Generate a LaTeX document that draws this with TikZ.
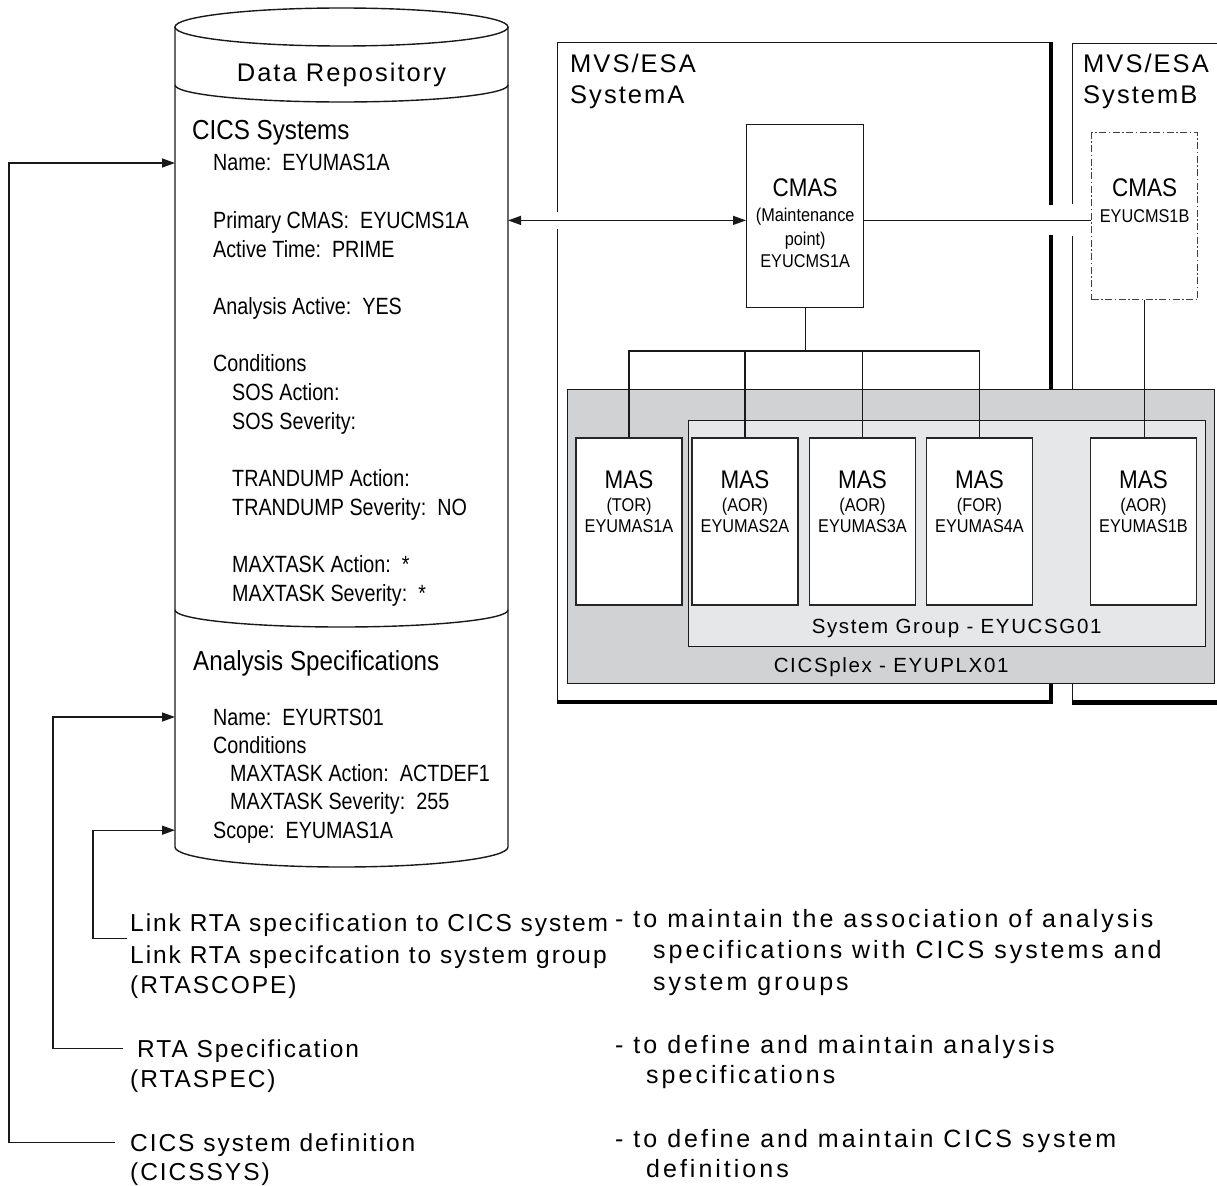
\documentclass[tikz,border=0pt]{standalone}
\usepackage{fontspec}
\setmainfont{Liberation Sans}
\newfontfamily\narrowfont[FakeStretch=0.88]{Liberation Sans}
\newfontfamily\condfont[FakeStretch=0.84]{Liberation Sans}
\newfontfamily\spacedfont[LetterSpace=8]{Liberation Sans}
\newfontfamily\widefont[LetterSpace=12]{Liberation Sans}
\newcommand{\fsz}[1]{\fontsize{#1}{#1}\selectfont}
\usetikzlibrary{arrows.meta,calc,positioning}
\definecolor{plexgray}{HTML}{D1D2D4}
\definecolor{groupgray}{HTML}{E6E7E8}

\begin{document}
\begin{tikzpicture}[x=1pt, y=-1pt, >={Triangle[length=13pt,width=9pt]},
    conn/.style={draw=black!90, line width=1.3pt},
    frame/.style={draw=black!90, line width=1.3pt, inner sep=0pt, anchor=north west},
    item/.style={anchor=base west, inner sep=0pt, font=\condfont\fsz{23.5}, text height=16pt, text depth=0pt},
    head/.style={anchor=base west, inner sep=0pt, font=\narrowfont\fsz{27.5}},
    boxtxt/.style={anchor=base, inner sep=0pt, font=\narrowfont\fsz{18.5}},
    boxhead/.style={anchor=base, inner sep=0pt, font=\narrowfont\fsz{25.5}},
    caption/.style={anchor=base, inner sep=0pt, font=\spacedfont\fsz{20.5}},
    syslbl/.style={anchor=base west, inner sep=0pt, font=\spacedfont\fsz{25.5}},
    desc/.style={anchor=base west, inner sep=0pt, font=\spacedfont\fsz{24.5}, text height=17pt, text depth=0pt},
    note/.style={anchor=base west, inner sep=0pt, font=\widefont\fsz{25}},
    masbox/.style={draw=black!85, fill=white, line width=1.3pt, inner sep=0pt, minimum width=106pt, minimum height=167pt}]

  \useasboundingbox (0,0) rectangle (1217,1185);
  \clip (0,0) rectangle (1217,1185);

  % MVS/ESA systems
  \node[frame, minimum width=492.5pt, minimum height=658.5pt] (sysa) at (557,42) {};
  \draw[line width=4.5pt] (sysa.north east) -- (sysa.south east) -- (sysa.south west);
  \node[frame, minimum width=170pt, minimum height=658pt] (sysb) at (1072,43) {};
  \draw[line width=4.5pt] (sysb.south west) -- (sysb.south east);
  \node[syslbl] (sysa1) at (570,73) {MVS/ESA};
  \node[syslbl] (sysa2) at (570,104) {SystemA};
  \node[syslbl] (sysb1) at (1083,73) {MVS/ESA};
  \node[syslbl] (sysb2) at (1083,104) {SystemB};
  % breaks in the frames where the CMAS links pass
  \fill[white] (553,212) rectangle (561,229);
  \fill[white] (1045,205) rectangle (1054,235);
  \fill[white] (1068,204) rectangle (1076,236);

  % CICSplex and system group
  \node[frame, fill=plexgray, minimum width=647pt, minimum height=294pt] (plex) at (567,389) {};
  \node[frame, fill=groupgray, minimum width=517pt, minimum height=226pt] (grp) at (688,420) {};
  \node[caption] (plexlbl) at ([yshift=11.5pt]plex.south) {CICSplex - EYUPLX01};
  \node[caption] (grplbl) at ([xshift=9.5pt,yshift=13.5pt]grp.south) {System Group - EYUCSG01};

  % CMAS
  \node[frame, fill=white, minimum width=117pt, minimum height=183pt] (cmasa) at (746,124) {};
  \node[boxhead] (cmasa0) at ([yshift=-72.5pt]cmasa.north) {CMAS};
  \node[boxtxt] (cmasa1) at ([yshift=-98pt]cmasa.north) {(Maintenance};
  \node[boxtxt] (cmasa2) at ([yshift=-121pt]cmasa.north) {point)};
  \node[boxtxt] (cmasa3) at ([yshift=-143.5pt]cmasa.north) {EYUCMS1A};
  \node[frame, draw=black!75, line width=1.2pt, dash pattern=on 7pt off 2.5pt on 1.5pt off 2.5pt,
    minimum width=106pt, minimum height=167pt] (cmasb) at (1091,132) {};
  \node[boxhead] (cmasb0) at ([yshift=-64.5pt]cmasb.north) {CMAS};
  \node[boxtxt] (cmasb1) at ([yshift=-90.5pt]cmasb.north) {EYUCMS1B};

  % MAS regions
  \foreach \n/\cx/\role/\id in {m1/629/TOR/EYUMAS1A, m2/745/AOR/EYUMAS2A,
      m3/862.5/AOR/EYUMAS3A, m4/979.5/FOR/EYUMAS4A, m5/1143.5/AOR/EYUMAS1B} {
    \node[masbox] (\n) at (\cx,521.5) {};
    \node[boxhead] (\n-t) at ([yshift=-51pt]\n.north) {MAS};
    \node[boxtxt] (\n-r) at ([yshift=-74pt]\n.north) {(\role)};
    \node[boxtxt] (\n-i) at ([yshift=-95.5pt]\n.north) {\id};
  }

  % CMAS to MAS links
  \coordinate (bus) at (0,351);
  \draw[conn] (cmasa.south) -- (cmasa.south |- bus);
  \draw[conn] (m1.north) |- (m4.north |- bus) -- (m4.north);
  \foreach \n in {m2,m3} \draw[conn] (\n.north) -- (\n.north |- bus);
  \draw[conn] (cmasb.south) -- (cmasb.south |- m5.north);

  % data repository
  \coordinate (drl) at (175,0);
  \coordinate (drr) at (508,0);
  \begin{scope}[line width=1.4pt, draw=black!90]
    \draw (175,27) -- (175,847) arc[start angle=180, end angle=360, x radius=166.5pt, y radius=20pt] -- (508,27);
    \draw (341.5,27) ellipse[x radius=166.5pt, y radius=19pt];
    \draw (175,85) arc[start angle=180, end angle=360, x radius=166.5pt, y radius=17pt];
    \draw (175,610) arc[start angle=180, end angle=360, x radius=166.5pt, y radius=17pt];
  \end{scope}
  \node[anchor=base, inner sep=0pt, font=\spacedfont\fsz{25.5}] (drtitle) at (341.5,81.5) {Data Repository};
  \node[head] (cshead) at (192,140) {CICS Systems};
  \foreach \k/\ind/\txt in {0/213/Name:\ \ EYUMAS1A, 2/213/Primary CMAS:\ \ EYUCMS1A,
      3/213/Active Time:\ \ PRIME, 5/213/Analysis Active:\ \ YES, 7/213/Conditions,
      8/232/SOS Action:, 9/232/SOS Severity:, 11/232/TRANDUMP Action:,
      12/232/TRANDUMP Severity:\ \ NO, 14/232/MAXTASK Action:\ \ *, 15/232/MAXTASK Severity:\ \ *}
    \node[item] (cs\k) at (\ind,{171+28.7*\k}) {\txt};
  \node[head] (ashead) at (193,670) {Analysis Specifications};
  \foreach \k/\ind/\txt in {0/213/Name:\ \ EYURTS01, 1/213/Conditions,
      2/230/MAXTASK Action:\ \ ACTDEF1, 3/230/MAXTASK Severity:\ \ 255, 4/213/Scope:\ \ EYUMAS1A}
    \node[item] (as\k) at (\ind,{725+28.3*\k}) {\txt};

  % CICSPlex SM views
  \node[desc] (l1) at (130,931) {Link RTA specification to CICS system};
  \node[desc] (l2) at (130,963) {Link RTA specifcation to system group};
  \node[desc] (l3) at (130,993) {(RTASCOPE)};
  \node[desc] (r1) at (137,1057) {RTA Specification};
  \node[desc] (r2) at (130,1087) {(RTASPEC)};
  \node[desc] (c1) at (130,1151) {CICS system definition};
  \node[desc] (c2) at (130,1180) {(CICSSYS)};

  \node[note] (n1a) at (615,927) {- to maintain the association of analysis};
  \node[note] (n1b) at (653,958) {specifications with CICS systems and};
  \node[note] (n1c) at (653,990) {system groups};
  \node[note] (n2a) at (615,1053) {- to define and maintain analysis};
  \node[note] (n2b) at (646,1083) {specifications};
  \node[note] (n3a) at (615,1147) {- to define and maintain CICS system};
  \node[note] (n3b) at (646,1177) {definitions};

  % connectors
  \draw[conn,<->] (drr |- cs2) -- (cmasa.west |- cs2);
  \draw[conn] (cmasa.east |- cs2) -- (cmasb.west |- cs2);
  \draw[conn,->] ([xshift=-15pt]c1.west) -- ++(-106,0) |- (drl |- cs0);
  \draw[conn,->] ([xshift=-14pt]r1.west) -- ++(-70,0) |- (drl |- as0);
  \draw[conn,->] ($(l1.west)!0.5!(l2.west)+(-3,0)$) -- ++(-34,0) |- (drl |- as4);
\end{tikzpicture}
\end{document}
